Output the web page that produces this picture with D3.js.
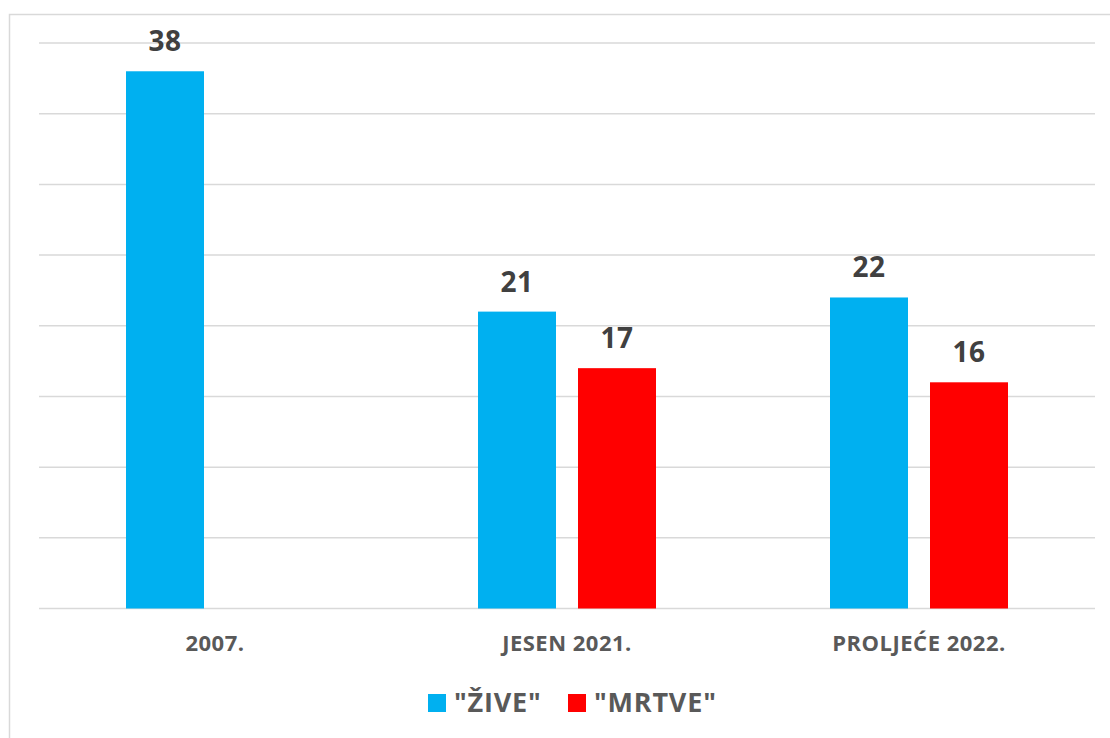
<!DOCTYPE html>
<html>
<head>
<meta charset="utf-8">
<script src="https://cdn.jsdelivr.net/npm/d3@7"></script>
<style>
  html, body { margin: 0; padding: 0; background: #fff; }
  svg { display: block; }
</style>
</head>
<body>
<svg id="chart" width="1110" height="738"></svg>
<script>
// chart data
const categories = ["2007.", "JESEN 2021.", "PROLJEĆE 2022."];
const seriesNames = ["\"ŽIVE\"", "\"MRTVE\""];
const zive = [38, 21, 22];
const mrtve = [null, 17, 16];
const seriesColors = ["#00B0F0", "#FF0000"];

const cfg = {
    left: 39, right: 1095,
    top: 43, bottom: 608.5,
    font: "'Open Sans', sans-serif"
};

const svg = d3.select("#chart");

// outer chart frame (runs off the page on right and bottom)
svg.append("rect")
    .attr("x", 9.5).attr("y", 14.5)
    .attr("width", 1200).attr("height", 800)
    .attr("fill", "none")
    .attr("stroke", "#d9d9d9")
    .attr("stroke-width", 1.5);

const x0 = d3.scaleBand()
    .domain(categories)
    .range([cfg.left, cfg.right])
    .padding(0);

const x1 = d3.scaleBand()
    .domain(seriesNames)
    .range([0, x0.bandwidth()])
    .paddingInner(0.22)
    .paddingOuter(0.87);

const y = d3.scaleLinear()
    .domain([0, 40])
    .range([cfg.bottom, cfg.top]);

// horizontal grid lines
svg.append("g")
    .selectAll("line")
    .data(y.ticks(8))
    .join("line")
    .attr("x1", cfg.left)
    .attr("x2", cfg.right)
    .attr("y1", d => y(d))
    .attr("y2", d => y(d))
    .attr("stroke", "#d9d9d9")
    .attr("stroke-width", 1.5);

// flatten values to bar records
const bars = [];
categories.forEach((c, i) => {
    [zive, mrtve].forEach((vals, s) => {
        if (vals[i] == null) return;
        bars.push({ cat: c, series: seriesNames[s], value: vals[i], color: seriesColors[s] });
    });
});

const gBars = svg.append("g");

gBars.selectAll("rect")
    .data(bars)
    .join("rect")
    .attr("x", d => x0(d.cat) + x1(d.series))
    .attr("y", d => y(d.value))
    .attr("width", x1.bandwidth())
    .attr("height", d => y(0) - y(d.value))
    .attr("fill", d => d.color);

gBars.selectAll("text")
    .data(bars)
    .join("text")
    .attr("x", d => x0(d.cat) + x1(d.series) + x1.bandwidth() / 2)
    .attr("y", d => y(d.value) - 20)
    .attr("text-anchor", "middle")
    .attr("font-family", cfg.font)
    .attr("font-weight", 700)
    .attr("font-size", "28px")
    .attr("letter-spacing", "0.5px")
    .attr("fill", "#404040")
    .text(d => d.value);

// category labels
const xAxis = d3.axisBottom(x0).tickSize(0).tickPadding(0);
const gx = svg.append("g")
    .attr("transform", `translate(0,${cfg.bottom})`)
    .call(xAxis);
gx.select(".domain").remove();
gx.selectAll("text")
    .attr("dy", null)
    .attr("y", 42.5)
    .attr("font-family", cfg.font)
    .attr("font-weight", 700)
    .attr("font-size", "22px")
    .attr("letter-spacing", "0.5px")
    .attr("fill", "#595959");

// legend
const legendX = [428, 568];
const legend = svg.append("g")
    .selectAll("g")
    .data(seriesNames)
    .join("g")
    .attr("transform", (d, i) => `translate(${legendX[i]},694)`);

legend.append("rect")
    .attr("width", 18)
    .attr("height", 18)
    .attr("fill", (d, i) => seriesColors[i]);

legend.append("text")
    .attr("x", 26)
    .attr("y", 18)
    .attr("font-family", cfg.font)
    .attr("font-weight", 700)
    .attr("font-size", "27px")
    .attr("letter-spacing", "0.8px")
    .attr("fill", "#595959")
    .text(d => d);
</script>
</body>
</html>
